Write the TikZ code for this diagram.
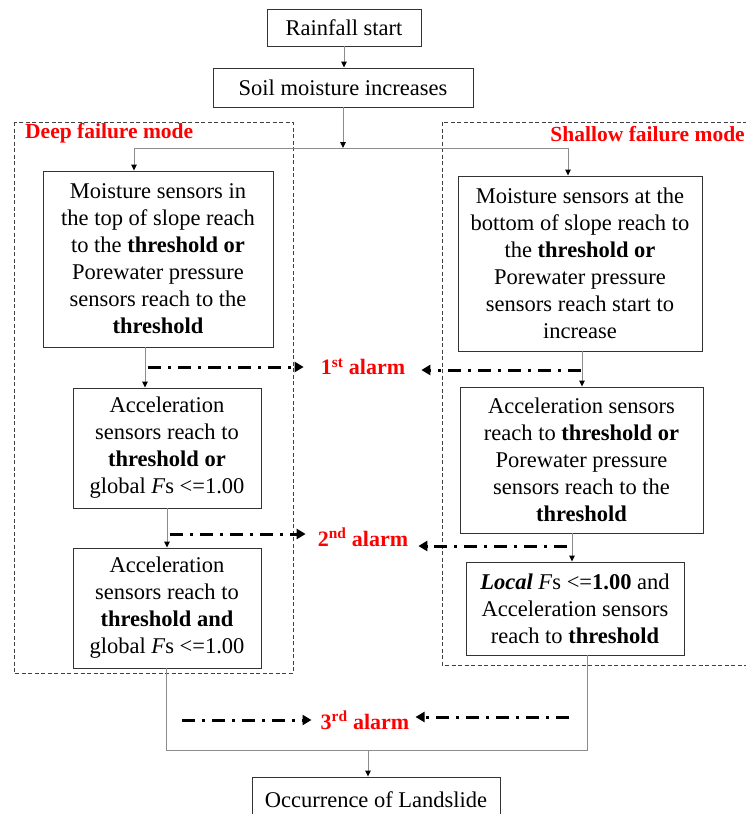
\documentclass[tikz,border=0pt]{standalone}
\usepackage{fontspec}
\setmainfont{Liberation Serif}
\usetikzlibrary{arrows.meta,calc}
\begin{document}
\begin{tikzpicture}[x=1pt,y=-1pt,
  box/.style={draw=black!80,line width=0.9pt,align=center,inner sep=0pt,
    font=\fontsize{22.5}{27}\selectfont},
  frame/.style={draw=black!75,line width=0.9pt,dash pattern=on 4pt off 2.5pt},
  conn/.style={draw=black!45,line width=0.9pt},
  carrow/.style={conn,-{Triangle[color=black,length=6pt,width=5.5pt]}},
  alarmarrow/.style={draw=black,line width=3pt,dash pattern=on 13pt off 7pt on 3pt off 7pt,
    -{Triangle[length=9pt,width=10pt]}},
  alarm/.style={text=red,font=\fontsize{22}{26}\selectfont\bfseries,inner sep=0pt},
  modelabel/.style={text=red,font=\fontsize{21.5}{25}\selectfont\bfseries,inner sep=0pt}]
\useasboundingbox (0,0) rectangle (746,814);

% dashed frames
\draw[frame] (14,122) rectangle (293,673);
\draw[frame] (442,122) rectangle (760,665);
\node[modelabel,anchor=west] (deeplbl) at (25,133) {Deep failure mode};
\node[modelabel,anchor=east] (shallowlbl) at (745,134) {Shallow failure mode};

% boxes
\node[box,minimum width=154,minimum height=37] (rain) at (344,27.5) {Rainfall start};
\node[box,minimum width=260,minimum height=39] (soil) at (343,87.5) {Soil moisture increases};
\node[box,minimum width=230,minimum height=176] (d1) at (158,259)
  {Moisture sensors in\\ the top of slope reach\\ to the \textbf{threshold or}\\ Porewater pressure\\ sensors reach to the\\ \textbf{threshold}};
\node[box,minimum width=244,minimum height=175] (s1) at (580,263.5)
  {Moisture sensors at the\\ bottom of slope reach to\\ the \textbf{threshold or}\\ Porewater pressure\\ sensors reach start to\\ increase};
\node[box,minimum width=188,minimum height=120] (d2) at (167,448)
  {Acceleration\\ sensors reach to\\ \textbf{threshold or}\\ global \textit{F}s <=1.00};
\node[box,minimum width=243,minimum height=146] (s2) at (581.5,460)
  {Acceleration sensors\\ reach to \textbf{threshold or}\\ Porewater pressure\\ sensors reach to the\\ \textbf{threshold}};
\node[box,minimum width=188,minimum height=120] (d3) at (167,608)
  {Acceleration\\ sensors reach to\\ \textbf{threshold and}\\ global \textit{F}s <=1.00};
\node[box,minimum width=218,minimum height=93] (s3) at (575,608.5)
  {\textbf{\textit{Local}} \textit{F}s <=\textbf{1.00} and\\ Acceleration sensors\\ reach to \textbf{threshold}};
\node[box,minimum width=248,minimum height=45] (occ) at (376,799.5) {Occurrence of Landslide};

% helper coordinates
\coordinate (split) at (343,148);
\coordinate (jd) at (134,148);
\coordinate (js) at (568,148);
\coordinate (xd12) at (145,0);
\coordinate (xs12) at (582,0);
\coordinate (xs23) at (572,0);
\coordinate (xdb) at (166,0);
\coordinate (xsb) at (587,0);
\coordinate (jb) at (368,750);

% connectors
\draw[carrow] (rain.south) -- (soil.north -| rain.south);
\draw[carrow] (soil.south) -- (split);
\draw[conn] (jd) -- (js);
\draw[carrow] (jd) -- (jd |- d1.north);
\draw[carrow] (js) -- (js |- s1.north);
\draw[carrow] (xd12 |- d1.south) -- (xd12 |- d2.north);
\draw[carrow] (d2.south) -- (d3.north);
\draw[carrow] (xs12 |- s1.south) -- (xs12 |- s2.north);
\draw[carrow] (xs23 |- s2.south) -- (xs23 |- s3.south |- s3.north);
\draw[conn] (xdb |- d3.south) -- (xdb |- jb) -- (xsb |- jb) -- (xsb |- s3.south);
\draw[carrow] (jb) -- (jb |- occ.north);

% alarms
\node[alarm] (al1) at (363,367) {1\textsuperscript{st} alarm};
\node[alarm] (al2) at (363,537) {2\textsuperscript{nd} alarm};
\node[alarm] (al3) at (365,720) {3\textsuperscript{rd} alarm};
\coordinate (a1l) at (148,367);
\coordinate (a1r) at (581,370);
\coordinate (a2l) at (170,534);
\coordinate (a2r) at (567,546);
\coordinate (a3l) at (182,720);
\coordinate (a3r) at (569,717);
\draw[alarmarrow] (a1l) -- ($(al1.west |- a1l)+(-17,0)$);
\draw[alarmarrow] (a1r) -- ($(al1.east |- a1r)+(16,0)$);
\draw[alarmarrow] (a2l) -- ($(al2.west |- a2l)+(-12,0)$);
\draw[alarmarrow] (a2r) -- ($(al2.east |- a2r)+(10,0)$);
\draw[alarmarrow] (a3l) -- ($(al3.west |- a3l)+(-9,0)$);
\draw[alarmarrow] (a3r) -- ($(al3.east |- a3r)+(6,0)$);
\end{tikzpicture}
\end{document}
